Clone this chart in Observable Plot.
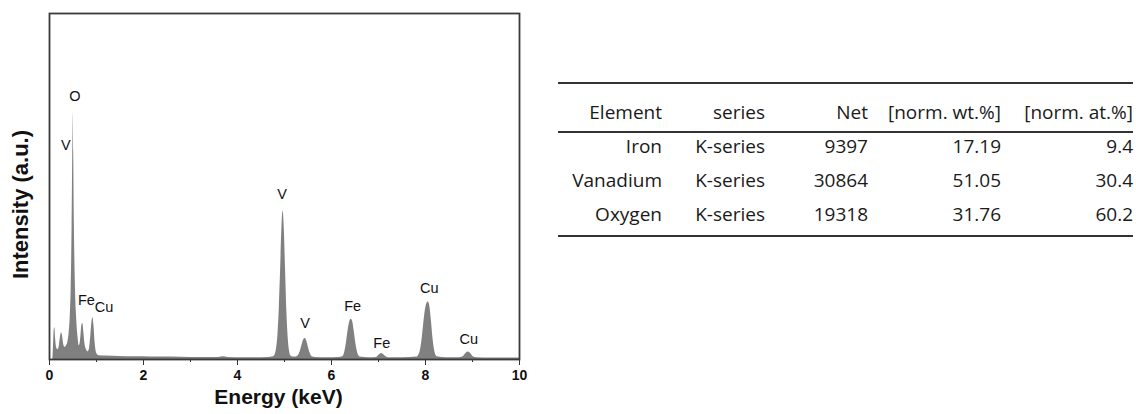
<!DOCTYPE html>
<html>
<head>
<meta charset="utf-8">
<script src="https://cdn.jsdelivr.net/npm/d3@7"></script>
<script src="https://cdn.jsdelivr.net/npm/@observablehq/plot@0.6"></script>
<style>
  html, body { margin: 0; padding: 0; background: #fff; }
  #wrap { position: relative; width: 1136px; height: 414px; overflow: hidden; }
  #chart { position: absolute; left: 0; top: 0; }
  #tbl { position: absolute; left: 558px; top: 82px; width: 575px; box-sizing: border-box;
         border-top: 2px solid #333; border-bottom: 2px solid #333;
         font-family: "Open Sans", Lato, sans-serif; font-size: 19px; color: #1a1a1a; }
  #tbl .row { box-sizing: border-box; display: flex; white-space: nowrap; line-height: 26px; }
  #tbl .cell { text-align: right; flex: none; }
  #tbl .head { height: 49px; padding-top: 15px; border-bottom: 2px solid #333; }
  #tbl .r1 { height: 33px; padding-top: 0px; }
  #tbl .r2 { height: 34px; padding-top: 1px; }
  #tbl .r3 { height: 35px; padding-top: 1px; }
</style>
</head>
<body>
<div id="wrap">
  <div id="chart"></div>
  <div id="tbl"></div>
</div>
<script>
// ---- Spectrum: energy in keV, intensity in a.u. (fraction of frame height)
const energy = [0, 0.07, 0.085, 0.10, 0.115, 0.13, 0.15, 0.18, 0.21, 0.24, 0.26, 0.28, 0.30, 0.33, 0.36, 0.39,
  0.42, 0.44, 0.46, 0.48, 0.495, 0.505, 0.515, 0.53, 0.55, 0.57, 0.59, 0.61, 0.63, 0.65, 0.67, 0.69, 0.71, 0.73,
  0.75, 0.78, 0.82, 0.85, 0.88, 0.905, 0.925, 0.945, 0.97, 0.99, 1.02, 1.06,
  1.2, 1.5, 1.8, 2.0, 2.3, 2.6, 3.0, 3.3, 3.6, 3.7, 3.8, 4.1, 4.4, 4.65,
  4.76, 4.80, 4.83, 4.86, 4.89, 4.92, 4.945, 4.97, 4.995, 5.02, 5.05, 5.08, 5.11, 5.14, 5.18,
  5.25, 5.30, 5.34, 5.38, 5.41, 5.44, 5.47, 5.50, 5.54, 5.59, 5.66,
  5.9, 6.15, 6.24, 6.28, 6.32, 6.36, 6.39, 6.42, 6.45, 6.48, 6.52, 6.56, 6.61,
  6.8, 6.96, 7.01, 7.06, 7.11, 7.16, 7.22,
  7.5, 7.82, 7.88, 7.92, 7.96, 8.0, 8.03, 8.06, 8.09, 8.12, 8.16, 8.20, 8.25,
  8.45, 8.72, 8.80, 8.85, 8.90, 8.95, 9.01, 9.09,
  9.4, 9.8, 10];
const intensity = [0, 0, 0.04, 0.085, 0.092, 0.06, 0.035, 0.028, 0.04, 0.07, 0.077, 0.065, 0.045, 0.035, 0.04, 0.05,
  0.08, 0.12, 0.2, 0.38, 0.6, 0.711, 0.6, 0.38, 0.22, 0.14, 0.09, 0.06, 0.04, 0.045, 0.07, 0.1, 0.104, 0.08,
  0.05, 0.03, 0.022, 0.03, 0.07, 0.11, 0.121, 0.1, 0.05, 0.025, 0.014, 0.011,
  0.010, 0.009, 0.008, 0.008, 0.007, 0.007, 0.006, 0.006, 0.006, 0.008, 0.006, 0.005, 0.005, 0.006,
  0.008, 0.014, 0.03, 0.07, 0.15, 0.27, 0.38, 0.429, 0.38, 0.27, 0.14, 0.06, 0.022, 0.01, 0.007,
  0.007, 0.012, 0.025, 0.045, 0.057, 0.061, 0.055, 0.04, 0.02, 0.008, 0.006,
  0.005, 0.006, 0.008, 0.02, 0.05, 0.09, 0.11, 0.116, 0.11, 0.085, 0.045, 0.018, 0.007,
  0.005, 0.006, 0.012, 0.017, 0.014, 0.008, 0.005,
  0.005, 0.007, 0.02, 0.05, 0.1, 0.145, 0.162, 0.166, 0.155, 0.12, 0.06, 0.022, 0.008,
  0.005, 0.005, 0.008, 0.016, 0.022, 0.019, 0.009, 0.005,
  0.004, 0.004, 0.004];

// ---- Peak labels
const peakLabels = ["O", "V", "Fe", "Cu", "V", "V", "Fe", "Fe", "Cu", "Cu"];
const labelEnergy = [0.54, 0.35, 0.785, 1.16, 4.95, 5.44, 6.45, 7.07, 8.08, 8.92];
const labelHeight = [0.76, 0.618, 0.17, 0.15, 0.477, 0.105, 0.155, 0.046, 0.206, 0.058];

// ---- Axes
const majorTicks = [0, 2, 4, 6, 8, 10];
const minorTicks = [1, 3, 5, 7, 9];
const xTitle = "Energy (keV)";
const yTitle = "Intensity (a.u.)";

// ---- Table
const tableHeader = ["Element", "series", "Net", "[norm. wt.%]", "[norm. at.%]"];
const tableElement = ["Iron", "Vanadium", "Oxygen"];
const tableSeries = ["K-series", "K-series", "K-series"];
const tableNet = [9397, 30864, 19318];
const tableWt = ["17.19", "51.05", "31.76"];
const tableAt = ["9.4", "30.4", "60.2"];

const spectrum = energy.map((e, i) => ({e, v: intensity[i]}));
const labels = peakLabels.map((t, i) => ({t, e: labelEnergy[i], v: labelHeight[i]}));

const chart = Plot.plot({
  width: 540,
  height: 414,
  marginLeft: 49,
  marginRight: 21,
  marginTop: 13,
  marginBottom: 55,
  x: {domain: [0, 10], label: null},
  y: {domain: [0, 1], axis: null},
  style: {background: "transparent", overflow: "visible"},
  marks: [
    Plot.areaY(spectrum, {x: "e", y: "v", fill: "#808080", curve: "monotone-x"}),
    Plot.axisX({ticks: majorTicks, tickSize: 6, tickPadding: 5, fontSize: 14, fontWeight: "bold",
      fontFamily: "Liberation Sans, Arial, sans-serif", label: null, tickFormat: d => String(d),
      stroke: "#333", fill: "#111"}),
    Plot.axisX({ticks: minorTicks, tickSize: 3, label: null, tickFormat: () => "", stroke: "#333"}),
    Plot.frame({stroke: "#3a3a3a", strokeWidth: 1.8}),
    Plot.text(labels, {x: "e", y: "v", text: "t", fontSize: 14.5, fill: "#111",
      fontFamily: "Liberation Sans, Arial, sans-serif"}),
    Plot.text([xTitle], {frameAnchor: "bottom", textAnchor: "middle", dx: -6, dy: 44, fontSize: 21, fontWeight: "bold",
      fill: "#111", fontFamily: "Liberation Sans, Arial, sans-serif"}),
    Plot.text([yTitle], {frameAnchor: "left", textAnchor: "middle", rotate: -90, dx: -29, dy: 18, fontSize: 22, fontWeight: "bold",
      fill: "#111", fontFamily: "Liberation Sans, Arial, sans-serif"})
  ]
});
document.getElementById("chart").appendChild(chart);

// build table
const colW = [104, 103, 103, 133, 132];
const rowHtml = (cls, cells) => `<div class="row ${cls}">` +
  cells.map((c, j) => `<div class="cell" style="width:${colW[j]}px">${c}</div>`).join("") + "</div>";
let html = rowHtml("head", tableHeader);
tableElement.forEach((el, i) => {
  html += rowHtml("r" + (i + 1), [el, tableSeries[i], tableNet[i], tableWt[i], tableAt[i]]);
});
document.getElementById("tbl").innerHTML = html;
</script>
</body>
</html>
